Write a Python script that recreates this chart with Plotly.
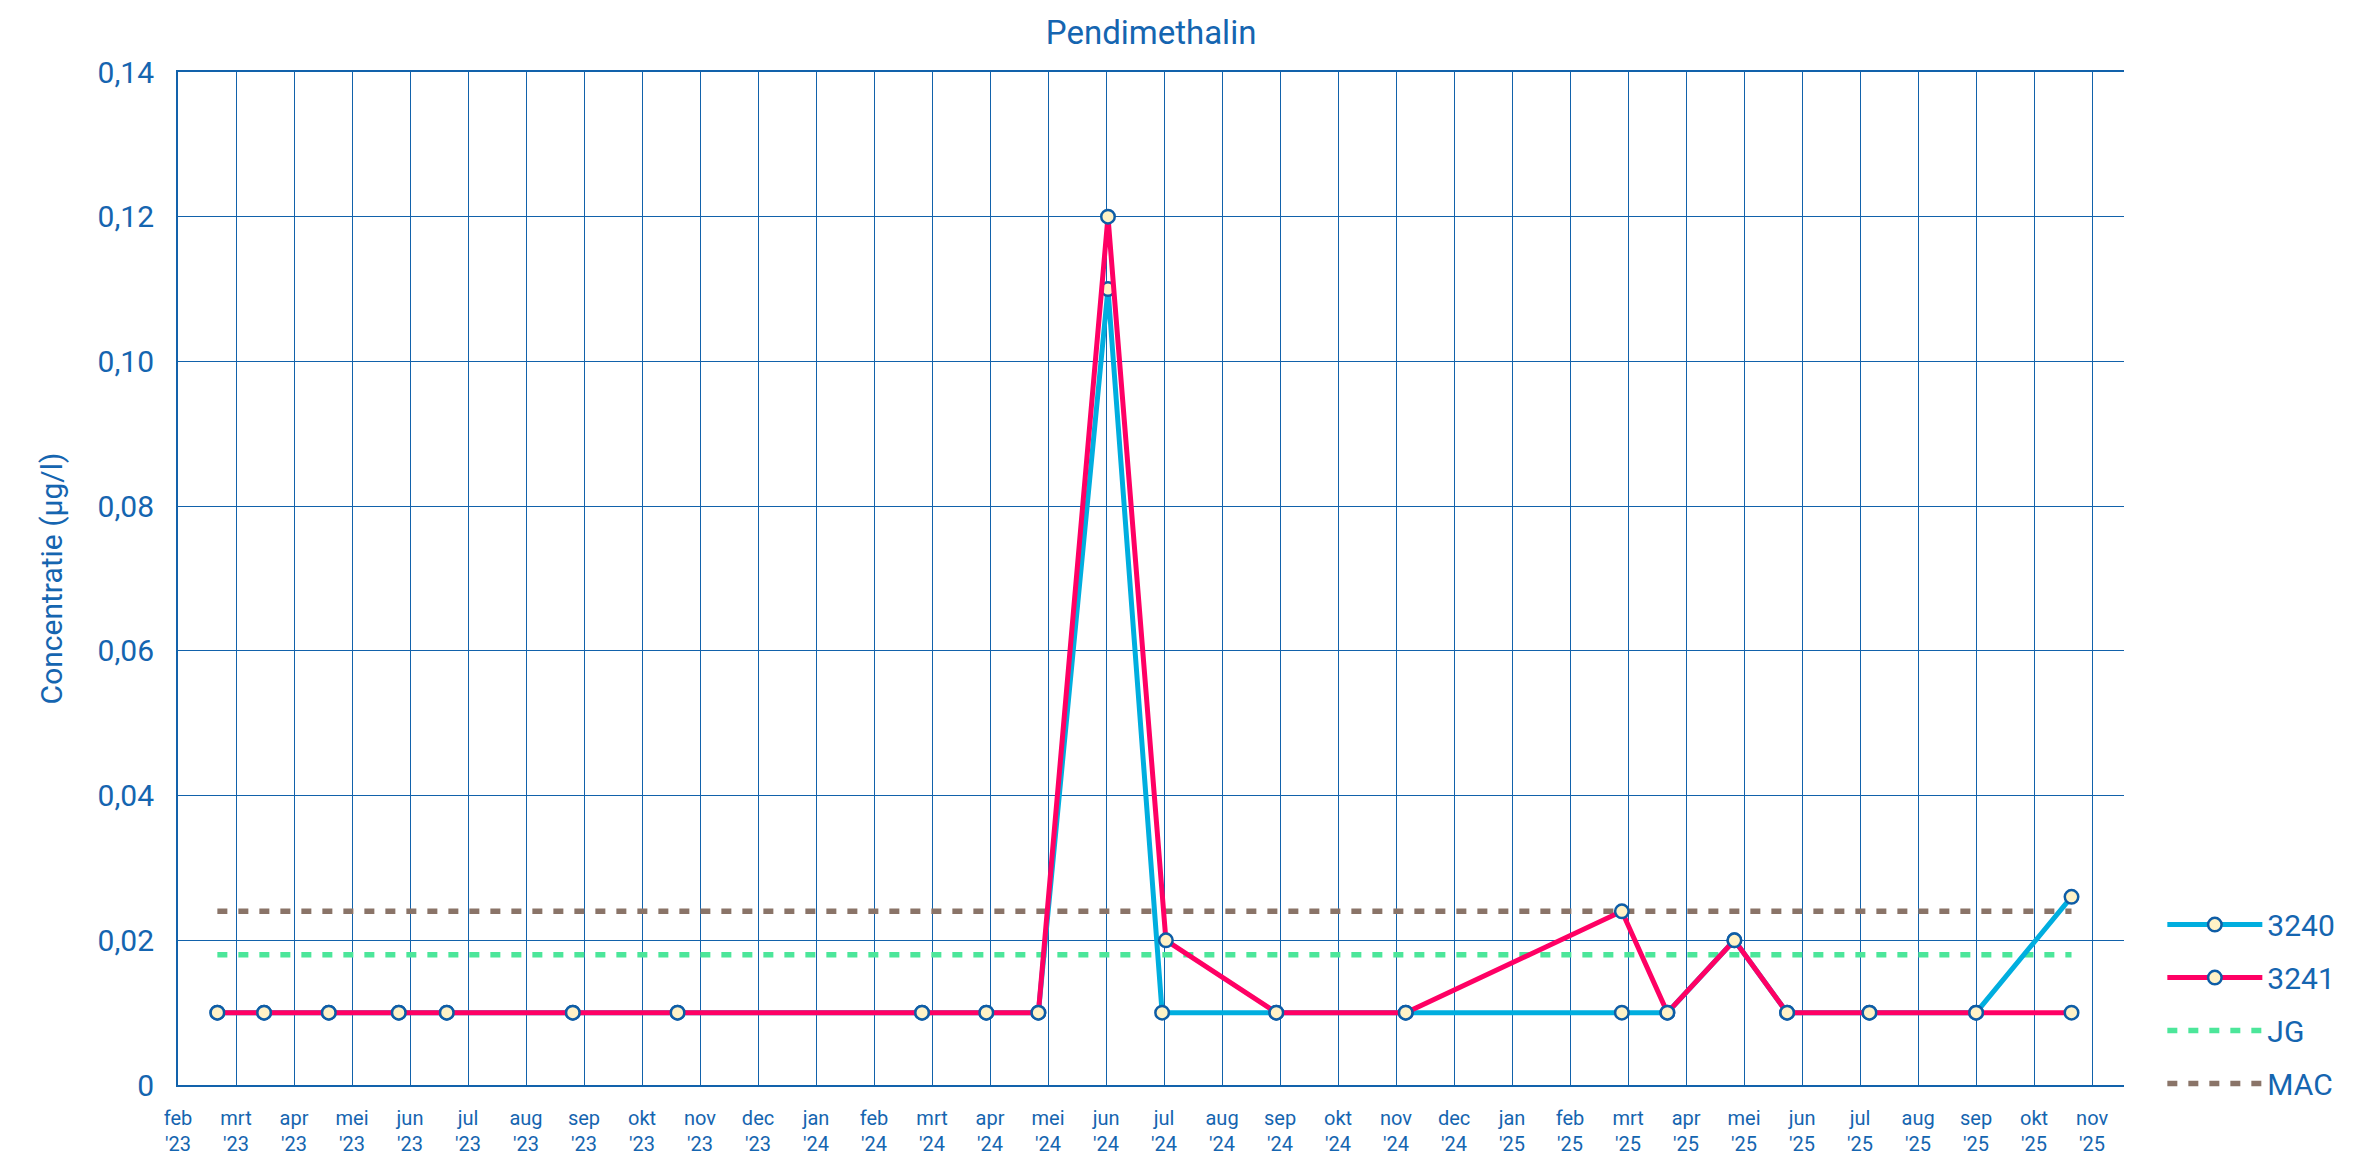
import calendar
import plotly.graph_objects as go

# ---------------- data ----------------
month_labels = ["feb<br>'23", "mrt<br>'23", "apr<br>'23", "mei<br>'23", "jun<br>'23", "jul<br>'23",
                "aug<br>'23", "sep<br>'23", "okt<br>'23", "nov<br>'23", "dec<br>'23", "jan<br>'24",
                "feb<br>'24", "mrt<br>'24", "apr<br>'24", "mei<br>'24", "jun<br>'24", "jul<br>'24",
                "aug<br>'24", "sep<br>'24", "okt<br>'24", "nov<br>'24", "dec<br>'24", "jan<br>'25",
                "feb<br>'25", "mrt<br>'25", "apr<br>'25", "mei<br>'25", "jun<br>'25", "jul<br>'25",
                "aug<br>'25", "sep<br>'25", "okt<br>'25", "nov<br>'25"]

dates_3240 = ["2023-02-20", "2023-03-16", "2023-04-19", "2023-05-26", "2023-06-20", "2023-08-26",
              "2023-10-20", "2024-02-25", "2024-03-30", "2024-04-26", "2024-06-02", "2024-06-30",
              "2024-08-30", "2024-11-06", "2025-02-26", "2025-03-22", "2025-04-26", "2025-05-24",
              "2025-07-06", "2025-09-01", "2025-10-21"]
values_3240 = [0.01, 0.01, 0.01, 0.01, 0.01, 0.01,
               0.01, 0.01, 0.01, 0.01, 0.11, 0.01,
               0.01, 0.01, 0.01, 0.01, 0.02, 0.01,
               0.01, 0.01, 0.026]

dates_3241 = ["2023-02-20", "2023-03-16", "2023-04-19", "2023-05-26", "2023-06-20", "2023-08-26",
              "2023-10-20", "2024-02-25", "2024-03-30", "2024-04-26", "2024-06-02", "2024-07-02",
              "2024-08-30", "2024-11-06", "2025-02-26", "2025-03-22", "2025-04-26", "2025-05-24",
              "2025-07-06", "2025-09-01", "2025-10-21"]
values_3241 = [0.01, 0.01, 0.01, 0.01, 0.01, 0.01,
               0.01, 0.01, 0.01, 0.01, 0.12, 0.02,
               0.01, 0.01, 0.024, 0.01, 0.02, 0.01,
               0.01, 0.01, 0.01]

limit_dates = ["2023-02-20", "2025-10-21"]
jg_value = 0.018
mac_value = 0.024

y_tickvals = [0, 0.02, 0.04, 0.06, 0.08, 0.10, 0.12, 0.14]
y_ticktext = ["0", "0,02", "0,04", "0,06", "0,08", "0,10", "0,12", "0,14"]


def month_pos(d):
    """Convert a date string to a fractional month index (0 = start of feb 2023)."""
    y, m, day = (int(p) for p in d.split("-"))
    ndays = calendar.monthrange(y, m)[1]
    return (y - 2023) * 12 + (m - 2) + (day - 1) / ndays


# ---------------- style ----------------
TXT = "#1565B0"
GRID = "#1262AB"
FONT = "Roboto, 'Liberation Sans', sans-serif"
MARKER = dict(size=13.5, color="#FFF2C6", line=dict(color="#0E5DA6", width=2.5))

fig = go.Figure()

fig.add_trace(go.Scatter(
    x=[month_pos(d) for d in limit_dates], y=[jg_value] * len(limit_dates),
    mode="lines", name="JG", legendrank=3, legendgroup="jg",
    line=dict(color="#4CE69A", width=5.5, dash="10px,11px"),
))
fig.add_trace(go.Scatter(
    x=[month_pos(d) for d in limit_dates], y=[mac_value] * len(limit_dates),
    mode="lines", name="MAC", legendrank=4, legendgroup="mac",
    line=dict(color="#8A7468", width=5.5, dash="10px,11px"),
))
fig.add_trace(go.Scatter(
    x=[month_pos(d) for d in dates_3240], y=values_3240,
    mode="lines+markers", name="3240", legendrank=1, legendgroup="a",
    line=dict(color="#00AEDF", width=5), marker=MARKER,
))
fig.add_trace(go.Scatter(
    x=[month_pos(d) for d in dates_3241], y=values_3241,
    mode="lines+markers", name="3241", legendrank=2, legendgroup="b",
    line=dict(color="#FF0064", width=5), marker=MARKER,
))

fig.update_layout(
    width=2354, height=1149,
    margin=dict(l=170, r=238, t=64, b=72, autoexpand=False),
    paper_bgcolor="white", plot_bgcolor="white",
    font=dict(family=FONT, color=TXT, size=20),
    title=dict(text="Pendimethalin", x=0.4856, xanchor="center", y=0.979, yanchor="middle",
               font=dict(size=33, color=TXT, family=FONT)),
    showlegend=True,
    legend=dict(x=1.0197, xanchor="left", y=0.184, yanchor="top",
                font=dict(size=30, color=TXT, family=FONT),
                itemwidth=95, tracegroupgap=11, bgcolor="rgba(0,0,0,0)"),
)

fig.update_xaxes(
    range=[0, 33.55], tickmode="array", tickvals=list(range(len(month_labels))),
    ticktext=month_labels, tickfont=dict(size=20, color=TXT),
    showgrid=True, gridcolor=GRID, gridwidth=1,
    showline=True, linecolor=GRID, linewidth=2, mirror=True,
    zeroline=False, ticks="", ticklabelstandoff=14, automargin=False,
)
fig.update_yaxes(
    range=[0, 0.14], tickmode="array", tickvals=y_tickvals, ticktext=y_ticktext,
    tickfont=dict(size=30, color=TXT),
    showgrid=True, gridcolor=GRID, gridwidth=1,
    showline=True, linecolor=GRID, linewidth=2,
    zeroline=False, ticks="", ticklabelstandoff=16, automargin=False,
    title=dict(text="Concentratie (µg/l)", font=dict(size=30, color=TXT), standoff=26),
)

fig.write_html("out.html")
